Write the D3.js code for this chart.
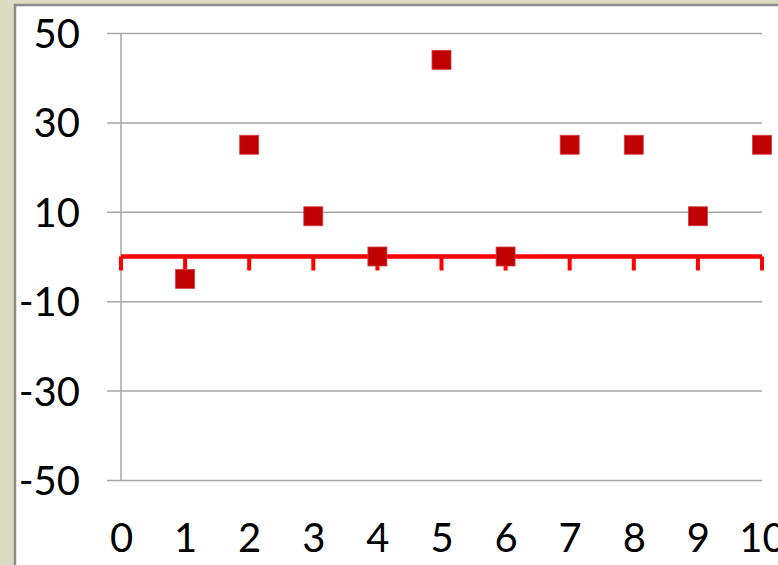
<!DOCTYPE html>
<html><head><meta charset="utf-8">
<script src="https://cdn.jsdelivr.net/npm/d3@7"></script>
<style>html,body{margin:0;padding:0;background:#dcdcc2;}svg{display:block;}</style>
</head><body>
<svg id="c" width="778" height="565"></svg>
<script>
const xValues = [1, 2, 3, 4, 5, 6, 7, 8, 9, 10];
const yValues = [-5, 25, 9, 0, 44, 0, 25, 25, 9, 25];
const xTicks = [0, 1, 2, 3, 4, 5, 6, 7, 8, 9, 10];
const yTicks = [50, 30, 10, -10, -30, -50];

const svg = d3.select("#c");
svg.append("rect").attr("x", 0).attr("y", 0).attr("width", 778).attr("height", 565).attr("fill", "#dcdcc2");
svg.append("rect").attr("x", 15).attr("y", 5).attr("width", 800).attr("height", 600)
  .attr("fill", "#ffffff").attr("stroke", "#8c8c8c").attr("stroke-width", 2.5);

const x = d3.scaleLinear().domain([0, 10]).range([121, 762]);
const y = d3.scaleLinear().domain([-50, 50]).range([480, 33]);
const font = "Lato, 'Open Sans', sans-serif";
const fmt = d => String(d);

// gridlines + y axis
const yAxis = d3.axisLeft(y).tickValues(yTicks).tickFormat(fmt).tickSize(-(762 - 121)).tickSizeOuter(0).tickPadding(41);
const gy = svg.append("g").attr("transform", "translate(121,0)").call(yAxis);
gy.select(".domain").remove();
gy.selectAll(".tick line").attr("x1", -14).attr("stroke", "#a6a6a6").attr("stroke-width", 1.5);
gy.selectAll(".tick text").attr("font-family", font).attr("font-size", 40).attr("fill", "#000")
  .attr("dy", "0.36em");
svg.append("line").attr("x1", x(0)).attr("x2", x(0)).attr("y1", y(50)).attr("y2", y(-50))
  .attr("stroke", "#a6a6a6").attr("stroke-width", 1.5);

// x labels
const xAxis = d3.axisBottom(x).tickValues(xTicks).tickSize(0).tickPadding(0).tickFormat(fmt);
const gx = svg.append("g").attr("transform", "translate(0,552)").call(xAxis);
gx.select(".domain").remove();
gx.selectAll(".tick text").attr("font-family", font).attr("font-size", 40).attr("fill", "#000")
  .attr("dy", 0).attr("y", 0);

// red zero axis with ticks
svg.append("line").attr("x1", x(0)).attr("x2", x(10)).attr("y1", y(0)).attr("y2", y(0))
  .attr("stroke", "#ff0000").attr("stroke-width", 4.5);
svg.append("g").selectAll("line").data(xTicks).join("line")
  .attr("x1", d => x(d)).attr("x2", d => x(d)).attr("y1", y(0)).attr("y2", y(0) + 14)
  .attr("stroke", "#ff0000").attr("stroke-width", 4);

// markers
const s = 19;
svg.append("g").selectAll("rect").data(xValues).join("rect")
  .attr("x", (d) => x(d) - s / 2).attr("y", (d, i) => y(yValues[i]) - s / 2)
  .attr("width", s).attr("height", s)
  .attr("fill", "#c00000").attr("stroke", "#d84040").attr("stroke-width", 0.8);
</script>
</body></html>
